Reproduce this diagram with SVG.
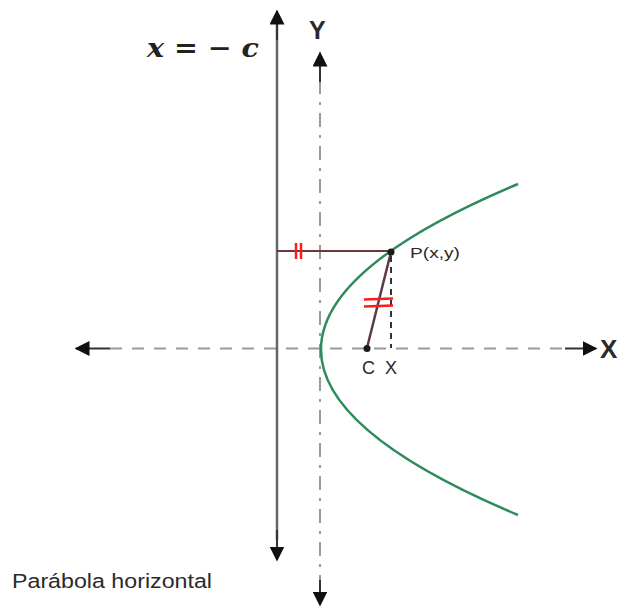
<svg xmlns="http://www.w3.org/2000/svg" width="627" height="608" viewBox="0 0 627 608">
<style>
.lab{font-family:"Liberation Sans",Arial,sans-serif;fill:#2a2a2a}
.axis{stroke:#9a9a9a;stroke-width:2;fill:none}
.solid{stroke:#333;stroke-width:2;fill:none}
.tick{stroke:#ff1a1a;stroke-width:2.5}
</style>
<defs>
<marker id="ah" viewBox="0 0 10 10" refX="9" refY="5" markerWidth="15" markerHeight="15" markerUnits="userSpaceOnUse" orient="auto">
<path d="M0,0 L10,5 L0,10 Z" fill="#111"/>
</marker>
</defs>
<rect width="627" height="608" fill="#fff"/>
<g id="axes">
<g id="x-axis">
<line class="axis" x1="110" y1="348.5" x2="565" y2="348.5" stroke-dasharray="12 10"/>
<line class="solid" x1="110" y1="348.5" x2="76" y2="348.5" marker-end="url(#ah)"/>
<line class="solid" x1="565" y1="348.5" x2="596" y2="348.5" marker-end="url(#ah)"/>
</g>
<g id="y-axis">
<line class="axis" x1="320" y1="80" x2="320" y2="585" stroke-dasharray="14 8 3 8" stroke="#b0b0b0"/>
<line class="solid" x1="320" y1="82" x2="320" y2="53" marker-end="url(#ah)"/>
<line class="solid" x1="320" y1="580" x2="320" y2="605" marker-end="url(#ah)"/>
</g>
<g id="directrix">
<line x1="277" y1="540" x2="277" y2="22" stroke="#666" stroke-width="2.5"/>
<line class="solid" x1="277" y1="40" x2="277" y2="11" marker-end="url(#ah)"/>
<line class="solid" x1="277" y1="530" x2="277" y2="560" marker-end="url(#ah)"/>
</g>
</g>
<g id="parabola">
<path d="M518,184 Q124,349.5 518,515" fill="none" stroke="#2f8a5c" stroke-width="2.5"/>
</g>
<g id="connectors">
<line x1="277" y1="251" x2="391" y2="251" stroke="#6b3b3b" stroke-width="2"/>
<line x1="391" y1="252" x2="367" y2="348" stroke="#5b3a4e" stroke-width="2.5"/>
<line x1="391" y1="256" x2="391" y2="348" stroke="#333" stroke-width="2" stroke-dasharray="6 5"/>
<line class="tick" x1="296" y1="243" x2="296" y2="259"/>
<line class="tick" x1="301" y1="243" x2="301" y2="259"/>
<line class="tick" x1="364" y1="299.5" x2="393" y2="298.5"/>
<line class="tick" x1="364" y1="306.5" x2="393" y2="305.5"/>
</g>
<g id="point-P">
<circle cx="391" cy="252" r="3.5" fill="#1a1a1a"/>
<text class="lab" x="410" y="258" font-size="15" textLength="50" lengthAdjust="spacingAndGlyphs">P(x,y)</text>
</g>
<g id="point-C">
<circle cx="367" cy="348.5" r="3.5" fill="#1a1a1a"/>
<text class="lab" x="362" y="374" font-size="18">C</text>
</g>
<g id="label-X-small">
<text class="lab" x="385" y="374" font-size="18">X</text>
</g>
<text class="lab" x="600" y="358" font-size="26" font-weight="bold" fill="#111">X</text>
<text class="lab" x="309" y="39" font-size="25" font-weight="bold" fill="#111">Y</text>
<text x="147" y="57" font-family="'DejaVu Serif','Liberation Serif',serif" font-style="italic" font-weight="bold" font-size="26" fill="#222" textLength="112" lengthAdjust="spacingAndGlyphs">x = − c</text>
<text class="lab" x="12" y="588" font-size="20" textLength="200" lengthAdjust="spacingAndGlyphs">Parábola horizontal</text>
</svg>
